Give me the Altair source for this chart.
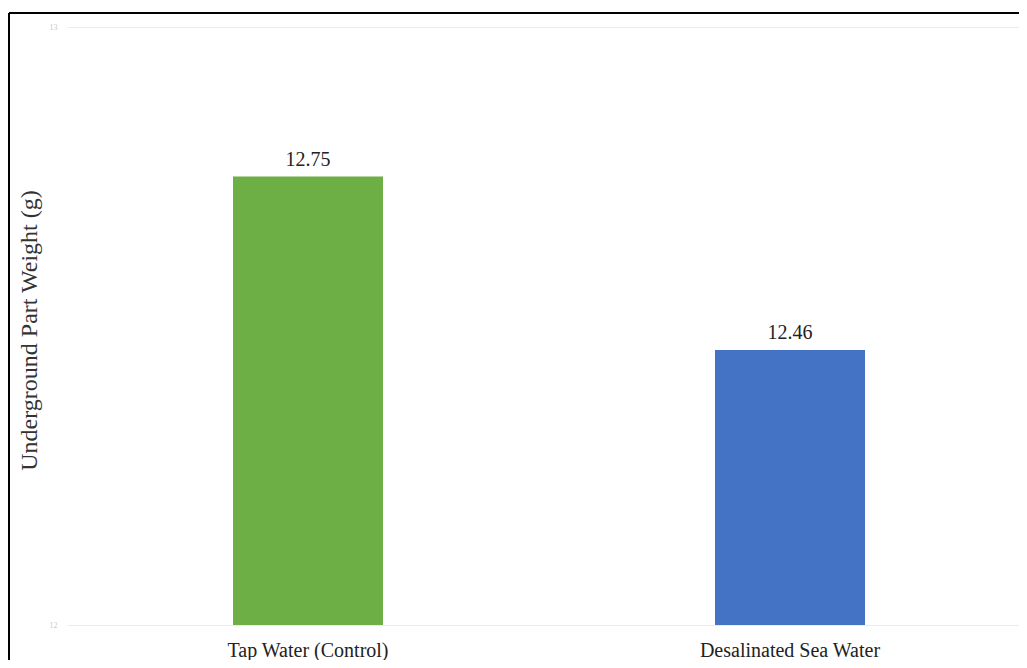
import altair as alt
import pandas as pd

categories = ["Tap Water (Control)", "Desalinated Sea Water"]
values = [12.75, 12.46]
colors = ["#6DAE45", "#4472C4"]
y_ticks = [12, 13]

df = pd.DataFrame({"cat": categories, "val": values, "color": colors})

FONT = "Liberation Serif"

x = alt.X("cat:N", sort=categories, title=None,
          scale=alt.Scale(paddingOuter=0, paddingInner=0, range=[0, 964]),
          axis=alt.Axis(labelAngle=0, labelFontSize=20, labelFont=FONT,
                        labelColor="#222", ticks=False, domain=False,
                        grid=False, labelLimit=0, labelPadding=15))
y = alt.Y("val:Q", scale=alt.Scale(domain=[12, 13], nice=False, zero=False),
          title="Underground Part Weight (g)",
          axis=alt.Axis(values=y_ticks, format="d", labelFontSize=8,
                        labelColor="#c8c8c8", labelFont=FONT, ticks=False,
                        domain=False, gridColor="#ececec", gridWidth=1,
                        labelPadding=10, titleFont=FONT, titleFontSize=24,
                        titleFontWeight="normal", titleColor="#333",
                        titlePadding=8, titleY=303))

bars = alt.Chart(df).mark_bar(size=150, clip=True).encode(
    x=x, y=y, y2=alt.datum(12), color=alt.Color("color:N", scale=None)
)
labels = alt.Chart(df).mark_text(baseline="bottom", dy=-7, fontSize=20,
                                 font=FONT, color="#222").encode(
    x=alt.X("cat:N", sort=categories), y="val:Q",
    text=alt.Text("val:Q", format=".2f")
)
frame_v = alt.Chart(df).mark_rule(color="#000", strokeWidth=2).encode(
    x=alt.value(-58), y=alt.value(-14), y2=alt.value(700)
)
frame_h = alt.Chart(df).mark_rule(color="#000", strokeWidth=2).encode(
    x=alt.value(-58), x2=alt.value(1000), y=alt.value(-14)
)

chart = alt.layer(bars, labels, frame_v, frame_h).properties(
    width=952, height=598,
    autosize=alt.AutoSizeParams(type="none"),
    padding={"left": 59, "top": 19, "right": 0, "bottom": 35},
    background="white",
).configure_view(strokeWidth=0, stroke=None)

chart.save("out.html", embed_options={"renderer": "svg", "actions": False})
